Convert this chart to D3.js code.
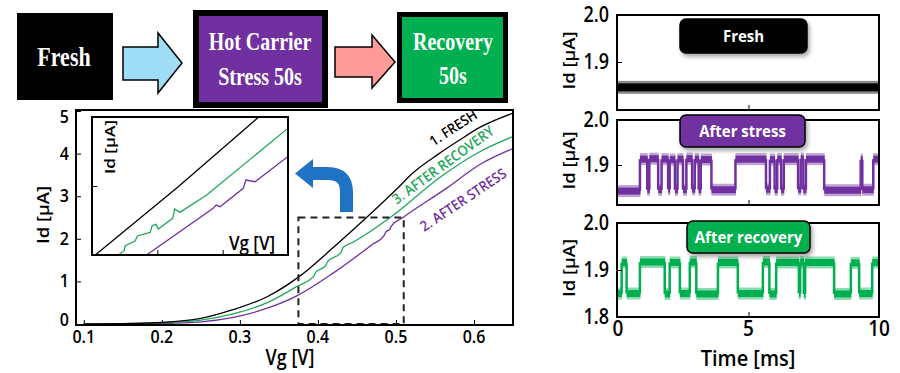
<!DOCTYPE html>
<html><head><meta charset="utf-8">
<script src="https://cdn.jsdelivr.net/npm/d3@7"></script>
<style>html,body{margin:0;padding:0;background:#fff;} svg{display:block;}</style>
</head><body>
<svg id="c" width="900" height="373"></svg>
<script>
// ---------------- DATA ----------------
const vgTicks = [0.1, 0.2, 0.3, 0.4, 0.5, 0.6];
const idTicks = [0, 1, 2, 3, 4, 5];
const insetVgTicks = [0.44, 0.46];
const insetIdTicks = [2.0];
const timeTicks = [0, 5, 10];
const rtnIdTicks = [[2.0, 1.9], [2.0, 1.9], [2.0, 1.9, 1.8]];

// Id-Vg curves [Vg (V), Id (uA)]
const freshIV = [[0.1,0],[0.15,0.01],[0.2,0.035],[0.25,0.13],[0.29,0.33],[0.335,0.64],[0.375,1.1],[0.42,1.8],[0.463,2.51],[0.5,3.15],[0.522,3.55],[0.553,3.97],[0.58,4.3],[0.608,4.62],[0.65,4.95]];
const recoveryIV = [[0.1,0],[0.15,0.005],[0.2,0.025],[0.25,0.09],[0.29,0.23],[0.335,0.5],[0.373,0.88],[0.395,1.13],[0.397,1.21],[0.41,1.37],[0.412,1.45],[0.43,1.69],[0.432,1.79],[0.445,1.92],[0.497,2.56],[0.557,3.45],[0.608,4.05],[0.65,4.4]];
const stressIV = [[0.1,0],[0.15,0.003],[0.2,0.012],[0.25,0.05],[0.29,0.15],[0.335,0.37],[0.373,0.66],[0.42,1.2],[0.47,1.87],[0.485,2.08],[0.487,2.16],[0.492,2.22],[0.494,2.3],[0.509,2.5],[0.565,3.19],[0.608,3.75],[0.65,4.12]];

// Inset (zoom of dashed box)
const insetFresh = [[0.4205,1.49],[0.4464,1.995],[0.4715,2.51]];
const insetRecovery = [[0.4281,1.5],[0.4298,1.531],[0.4302,1.567],[0.4332,1.601],[0.4339,1.638],[0.4378,1.664],[0.4384,1.712],[0.4396,1.722],[0.4403,1.688],[0.4447,1.766],[0.4453,1.833],[0.4469,1.809],[0.4551,1.935],[0.4806,2.43]];
const insetStress = [[0.4367,1.5],[0.4571,1.838],[0.4580,1.862],[0.4592,1.85],[0.4663,1.983],[0.4671,2.043],[0.4699,2.031],[0.4806,2.225]];

const boxRange = {vg: [0.375, 0.51], id: [0, 2.5]};

// RTN time traces: switching times (ms) and Id level (uA) held until next time
const freshTimes = [0, 10];
const freshId = [1.846, 1.846];
const stressTimes = [0,0.84,1.12,1.2,1.54,1.67,1.92,1.98,2.18,2.28,2.49,2.62,2.84,2.94,3.09,3.17,3.58,4.5,5.67,5.82,6.0,6.1,6.25,6.35,6.9,7.0,7.1,7.2,7.9,9.3,9.36,9.78,10];
const stressId = [1.842,1.913,1.845,1.914,1.845,1.913,1.846,1.912,1.845,1.913,1.845,1.914,1.846,1.913,1.845,1.912,1.845,1.913,1.846,1.912,1.845,1.913,1.845,1.913,1.846,1.914,1.845,1.913,1.844,1.912,1.845,1.913,1.913];
const recoveryTimes = [0,0.14,0.33,0.84,1.79,1.98,2.37,2.75,3.0,3.83,4.59,5.55,5.8,6.06,6.93,6.98,7.12,7.17,8.28,8.92,9.24,9.74,10];
const recoveryId = [1.85,1.916,1.85,1.917,1.849,1.916,1.85,1.917,1.849,1.916,1.85,1.917,1.849,1.916,1.85,1.917,1.849,1.916,1.849,1.915,1.85,1.916,1.916];

const stageNames = ["Fresh", "After stress", "After recovery"];
const purple = "#7030A0", green = "#00B050", greenLine = "#1FA85A";

// ---------------- DRAW ----------------
const svg = d3.select("#c");
const SANS = "'Open Sans', Lato, sans-serif";
const SERIF = "'Liberation Serif', 'Times New Roman', serif";

function txt(g, x, y, s, o = {}) {
  let tr = `translate(${x},${y})`;
  if (o.rot) tr += ` rotate(${o.rot})`;
  tr += ` scale(${o.sx || 1},${o.sy || 1})`;
  return g.append("text").attr("transform", tr)
    .attr("font-family", o.ff || SANS).attr("font-size", o.fs || 16)
    .attr("font-weight", o.fw || 600).attr("fill", o.fill || "#000")
    .attr("text-anchor", o.anchor || "middle").text(s);
}

const defs = svg.append("defs");
const f = defs.append("filter").attr("id", "sh").attr("x", "-20%").attr("y", "-30%").attr("width", "140%").attr("height", "170%");
f.append("feDropShadow").attr("dx", 2).attr("dy", 3).attr("stdDeviation", 2).attr("flood-color", "#000").attr("flood-opacity", 0.35);

// ---- Top flow diagram ----
const flow = svg.append("g");
flow.append("rect").attr("x", 17).attr("y", 13).attr("width", 96).attr("height", 87).attr("fill", "#000");
txt(flow, 64, 66, "Fresh", {ff: SERIF, fs: 22, fw: "bold", fill: "#fff", sy: 1.2});
flow.append("polygon").attr("points", "123,47 158,47 158,33 182,63 158,93 158,80 123,80")
  .attr("fill", "#9FDCF6").attr("stroke", "#000").attr("stroke-width", 1.5);
flow.append("rect").attr("x", 196).attr("y", 13).attr("width", 129).attr("height", 92)
  .attr("fill", purple).attr("stroke", "#000").attr("stroke-width", 6);
txt(flow, 260, 50, "Hot Carrier", {ff: SERIF, fs: 20, fw: "bold", fill: "#fff", sy: 1.3});
txt(flow, 260, 85, "Stress 50s", {ff: SERIF, fs: 20, fw: "bold", fill: "#fff", sy: 1.3});
flow.append("polygon").attr("points", "335,47 372,47 372,35 395,62 372,88 372,77 335,77")
  .attr("fill", "#FF9B98").attr("stroke", "#000").attr("stroke-width", 1.5);
flow.append("rect").attr("x", 399.5).attr("y", 14.5).attr("width", 106).attr("height", 86)
  .attr("fill", green).attr("stroke", "#000").attr("stroke-width", 5);
txt(flow, 453, 50, "Recovery", {ff: SERIF, fs: 20, fw: "bold", fill: "#fff", sy: 1.3});
txt(flow, 453, 84, "50s", {ff: SERIF, fs: 20, fw: "bold", fill: "#fff", sy: 1.3});

// ---- Main Id-Vg chart ----
const xV = d3.scaleLinear().domain([0.09, 0.65]).range([76, 513]);
const yI = d3.scaleLinear().domain([0, 5]).range([324, 111]);
const main = svg.append("g");
defs.append("clipPath").attr("id", "clipMain").append("rect").attr("x", 76).attr("y", 110).attr("width", 437).attr("height", 215);

main.append("g").attr("transform", "translate(0,325)")
  .call(d3.axisBottom(xV).tickValues(vgTicks).tickSizeInner(-5).tickSizeOuter(0).tickFormat(""))
  .call(g => g.select(".domain").remove());
main.append("g").attr("transform", "translate(76,0)")
  .call(d3.axisLeft(yI).tickValues(idTicks).tickSizeInner(-5).tickSizeOuter(0).tickFormat(""))
  .call(g => g.select(".domain").remove());
vgTicks.forEach(v => txt(main, xV(v), 343, d3.format(".1f")(v), {fs: 16, sy: 1.15}));
idTicks.forEach(v => txt(main, 69, Math.min(Math.max(yI(v), 117), 320) + 6, String(v), {fs: 16, sy: 1.15, anchor: "end"}));
txt(main, 290, 365, "Vg [V]", {fs: 18, sy: 1.15});
txt(main, 49, 215, "Id [μA]", {fs: 16, rot: -90, sx: 1.15});

const lineMain = d3.line().x(d => xV(d[0])).y(d => yI(d[1])).curve(d3.curveMonotoneX);
const curves = main.append("g").attr("clip-path", "url(#clipMain)");
curves.append("path").attr("d", lineMain(stressIV)).attr("fill", "none").attr("stroke", purple).attr("stroke-width", 1.3);
curves.append("path").attr("d", lineMain(recoveryIV)).attr("fill", "none").attr("stroke", greenLine).attr("stroke-width", 1.3);
curves.append("path").attr("d", lineMain(freshIV)).attr("fill", "none").attr("stroke", "#000").attr("stroke-width", 1.3);

// dashed zoom box
main.append("rect").attr("x", xV(boxRange.vg[0])).attr("y", yI(boxRange.id[1]))
  .attr("width", xV(boxRange.vg[1]) - xV(boxRange.vg[0])).attr("height", yI(boxRange.id[0]) - yI(boxRange.id[1]))
  .attr("fill", "none").attr("stroke", "#222").attr("stroke-width", 2).attr("stroke-dasharray", "7,5");

main.append("rect").attr("x", 76).attr("y", 110).attr("width", 437).attr("height", 215)
  .attr("fill", "none").attr("stroke", "#000").attr("stroke-width", 2);

// curve labels
txt(main, 456, 132, "1. FRESH", {fs: 13, rot: -33, fill: "#000", sy: 1.1});
txt(main, 446, 169, "3. AFTER RECOVERY", {fs: 13, rot: -36, fill: greenLine, sy: 1.1});
txt(main, 466, 204, "2. AFTER STRESS", {fs: 13, rot: -34, fill: purple, sy: 1.1});

// blue curved arrow
main.append("path").attr("d", "M346.5,212 L346.5,192 Q346.5,173.5 328,173.5 L308,173.5")
  .attr("fill", "none").attr("stroke", "#1F73C4").attr("stroke-width", 13);
main.append("polygon").attr("points", "295,173.5 313,159 313,188").attr("fill", "#1F73C4");

// ---- Inset ----
const xIn = d3.scaleLinear().domain([0.42, 0.48]).range([92, 288]);
const yIn = d3.scaleLinear().domain([1.5, 2.5]).range([255, 117]);
const ins = svg.append("g");
defs.append("clipPath").attr("id", "clipIn").append("rect").attr("x", 92).attr("y", 117).attr("width", 196).attr("height", 138);
ins.append("rect").attr("x", 92).attr("y", 117).attr("width", 196).attr("height", 138).attr("fill", "#fff");
ins.append("g").attr("transform", "translate(0,255)")
  .call(d3.axisBottom(xIn).tickValues(insetVgTicks).tickSizeInner(-5).tickSizeOuter(0).tickFormat(""))
  .call(g => g.select(".domain").remove());
ins.append("g").attr("transform", "translate(92,0)")
  .call(d3.axisLeft(yIn).tickValues(insetIdTicks).tickSizeInner(-5).tickSizeOuter(0).tickFormat(""))
  .call(g => g.select(".domain").remove());
const lineIn = d3.line().x(d => xIn(d[0])).y(d => yIn(d[1]));
const ic = ins.append("g").attr("clip-path", "url(#clipIn)");
ic.append("path").attr("d", lineIn(insetFresh)).attr("fill", "none").attr("stroke", "#000").attr("stroke-width", 1.3);
ic.append("path").attr("d", lineIn(insetRecovery)).attr("fill", "none").attr("stroke", greenLine).attr("stroke-width", 1.3);
ic.append("path").attr("d", lineIn(insetStress)).attr("fill", "none").attr("stroke", purple).attr("stroke-width", 1.3);
ins.append("rect").attr("x", 92).attr("y", 117).attr("width", 196).attr("height", 138)
  .attr("fill", "none").attr("stroke", "#000").attr("stroke-width", 2);
txt(ins, 115, 147, "Id [μA]", {fs: 15, rot: -90, sx: 1.15});
txt(ins, 252, 250, "Vg [V]", {fs: 17, sy: 1.15});

// ---- RTN panels ----
const xT = d3.scaleLinear().domain([0, 10]).range([618, 879]);
const panels = [{top: 15, bottom: 110, mid: 62}, {top: 120, bottom: 205, mid: 165}, {top: 223, bottom: 317, mid: 270}];
const traces = [[freshTimes, freshId], [stressTimes, stressId], [recoveryTimes, recoveryId]];
const colors = ["#000", purple, green];
const labelBoxes = [{x: 680, y: 19, w: 127, h: 34}, {x: 680, y: 115, w: 125, h: 32}, {x: 687, y: 221, w: 123, h: 32}];
const bandH = [8, 7, 7];

panels.forEach((p, i) => {
  const g = svg.append("g");
  const yT = d3.scaleLinear().domain([1.9, 2.0]).range([p.mid, p.top]);
  const cid = "clipP" + i;
  defs.append("clipPath").attr("id", cid).append("rect").attr("x", 617).attr("y", p.top).attr("width", 262).attr("height", p.bottom - p.top);
  const gc = g.append("g").attr("clip-path", `url(#${cid})`);
  const [ts, vs] = traces[i];
  for (let k = 0; k < ts.length - 1; k++) {
    const w = xT(ts[k + 1]) - xT(ts[k]) + 0.5;
    gc.append("rect").attr("x", xT(ts[k])).attr("y", yT(vs[k]) - bandH[i] / 2 - 2.5)
      .attr("width", w).attr("height", bandH[i] + 5).attr("fill", colors[i]).attr("opacity", 0.45);
    gc.append("rect").attr("x", xT(ts[k])).attr("y", yT(vs[k]) - bandH[i] / 2)
      .attr("width", w).attr("height", bandH[i]).attr("fill", colors[i]);
    if (k > 0) {
      gc.append("line").attr("x1", xT(ts[k])).attr("x2", xT(ts[k]))
        .attr("y1", yT(vs[k - 1])).attr("y2", yT(vs[k])).attr("stroke", colors[i]).attr("stroke-width", 2.5);
    }
  }
  g.append("g").attr("transform", `translate(0,${p.bottom})`)
    .call(d3.axisBottom(xT).tickValues([5]).tickSizeInner(-5).tickSizeOuter(0).tickFormat(""))
    .call(a => a.select(".domain").remove());
  g.append("g").attr("transform", "translate(617,0)")
    .call(d3.axisLeft(yT).tickValues([1.9]).tickSizeInner(-5).tickSizeOuter(0).tickFormat(""))
    .call(a => a.select(".domain").remove());
  g.append("rect").attr("x", 617).attr("y", p.top).attr("width", 262).attr("height", p.bottom - p.top)
    .attr("fill", "none").attr("stroke", "#000").attr("stroke-width", 2);
  rtnIdTicks[i].forEach(v => {
    const yy = Math.min(yT(v), p.bottom);
    txt(g, 609, yy + 7, d3.format(".1f")(v), {fs: 18, sy: 1.15, anchor: "end"});
  });
  txt(g, 575, (p.top + p.bottom) / 2 - 2, "Id [μA]", {fs: 16, rot: -90, sx: 1.15});
  const b = labelBoxes[i];
  g.append("rect").attr("x", b.x).attr("y", b.y).attr("width", b.w).attr("height", b.h).attr("rx", 6)
    .attr("fill", colors[i]).attr("stroke", "#000").attr("stroke-width", 1.5).attr("filter", "url(#sh)");
  txt(g, b.x + b.w / 2, b.y + b.h / 2 + 6, stageNames[i], {fs: 15, fw: "bold", fill: "#fff", sy: 1.1});
});
timeTicks.forEach(v => txt(svg, xT(v), 336, String(v), {fs: 19, sy: 1.1}));
txt(svg, 748, 366, "Time [ms]", {fs: 20, sy: 1.1});
</script>
</body></html>
